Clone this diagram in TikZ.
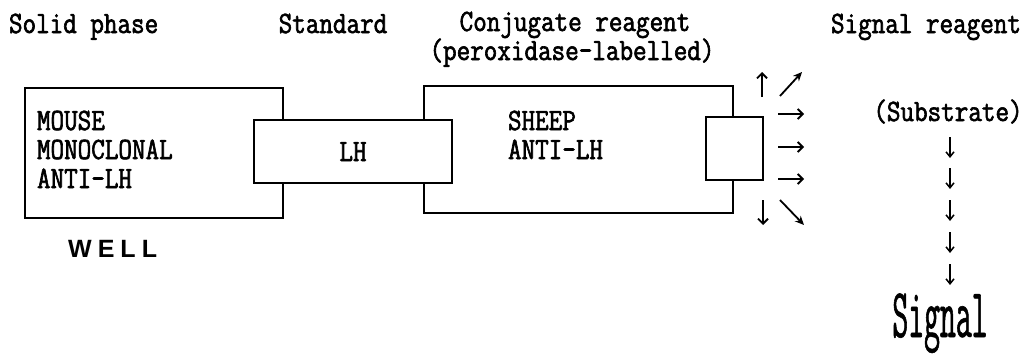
\documentclass[tikz,border=0pt]{standalone}
\usepackage{fontspec}
\usetikzlibrary{arrows.meta}
\newfontfamily\txtfont[FakeStretch=0.85,FakeBold=2]{Latin Modern Mono}
\newfontfamily\bigfont[FakeStretch=0.44,FakeBold=0.8]{Latin Modern Mono}
\newfontfamily\wellfont{Liberation Sans}
\tikzset{
  boxline/.style={draw=black, line width=2.4pt, inner sep=0pt, outer sep=0pt},
  lbl/.style={font=\txtfont\fontsize{31}{32}\selectfont, inner sep=0pt, outer sep=0pt},
  ray/.style={line width=1.8pt, -{Straight Barb[length=5pt,width=10pt,line width=1.8pt]}},
  dray/.style={line width=1.8pt, -{Stealth[length=9pt,width=8pt]}},
  sarrow/.style={line width=1.5pt, -{Straight Barb[length=5pt,width=8pt,line width=1.5pt]}}
}
\begin{document}
\begin{tikzpicture}[x=1pt,y=-1pt]
\useasboundingbox (0,0) rectangle (1036,356);
% boxes
\node[boxline, minimum width=258pt, minimum height=130pt] (well) at (154,153) {};
\node[boxline, minimum width=309pt, minimum height=127pt] (conj) at (578.5,149.5) {};
\node[boxline, fill=white, minimum width=198pt, minimum height=63pt] (lhbox) at (353,151.5) {};
\node[boxline, fill=white, minimum width=57pt, minimum height=63pt] (enz) at (734.5,148.5) {};
% headers
\node[lbl, anchor=base west] (hsolid) at (9,33) {Solid phase};
\node[lbl, anchor=base] (hstd) at (333,33) {Standard};
\node[lbl, anchor=base] (hconj) at (575,31) {Conjugate reagent};
\node[lbl, anchor=base] (hperox) at (572,60) {(peroxidase-labelled)};
\node[lbl, anchor=base] (hsig) at (926,33) {Signal reagent};
% box texts
\node[lbl, anchor=base west] (t1) at (37,130) {MOUSE};
\node[lbl, anchor=base west] (t2) at (37,159) {MONOCLONAL};
\node[lbl, anchor=base west] (t3) at (37,188) {ANTI-LH};
\node[lbl, anchor=base] (tlh) at (353,161) {LH};
\node[lbl, anchor=base west] (t4) at (508,130) {SHEEP};
\node[lbl, anchor=base west] (t5) at (508,159) {ANTI-LH};
\node[font=\wellfont\bfseries\fontsize{25}{26}\selectfont, anchor=base west, inner sep=0pt] (wl) at (68,257) {W\hspace{6pt}E\hspace{6pt}L\hspace{6pt}L};
% substrate / signal
\node[lbl, anchor=base] (subs) at (948,121) {(Substrate)};
\node[font=\bigfont\fontsize{70}{72}\selectfont, anchor=base, inner sep=0pt] (sig) at (940,337) {Signal};
% radiating arrows from enzyme
\coordinate (u0) at (762,97);  \coordinate (u1) at (762,72);
\coordinate (d0) at (780,96);  \coordinate (d1) at (802,72);
\coordinate (r10) at (778,114); \coordinate (r11) at (804,114);
\coordinate (r20) at (778,147); \coordinate (r21) at (804,147);
\coordinate (r30) at (778,179); \coordinate (r31) at (804,179);
\coordinate (v0) at (763,200); \coordinate (v1) at (763,225);
\coordinate (e0) at (780,200); \coordinate (e1) at (804,225);
\draw[ray] (u0) -- (u1);
\draw[dray] (d0) -- (d1);
\draw[ray] (r10) -- (r11);
\draw[ray] (r20) -- (r21);
\draw[ray] (r30) -- (r31);
\draw[ray] (v0) -- (v1);
\draw[dray] (e0) -- (e1);
% substrate chain
\foreach \i/\y in {1/137,2/168,3/200,4/232,5/264}{
  \coordinate (a\i s) at (950,\y);
  \coordinate (a\i e) at (950,\y+21);
  \draw[sarrow] (a\i s) -- (a\i e);
}
\end{tikzpicture}
\end{document}
